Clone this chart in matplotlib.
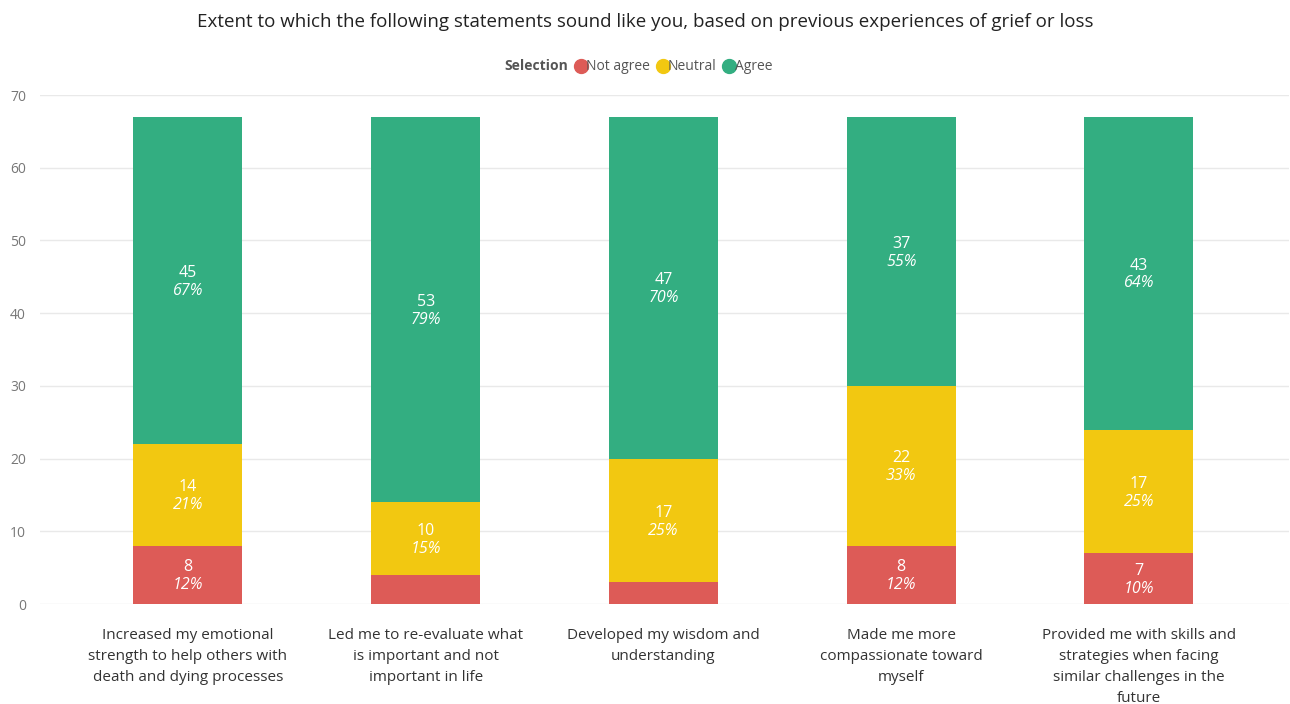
import numpy as np
import matplotlib.pyplot as plt
from matplotlib.lines import Line2D

plt.rcParams['font.family'] = ['Open Sans', 'DejaVu Sans']

# categories (wrapped as in the original)
categories = [
    'Increased my emotional\nstrength to help others with\ndeath and dying processes',
    'Led me to re-evaluate what\nis important and not\nimportant in life',
    'Developed my wisdom and\nunderstanding',
    'Made me more\ncompassionate toward\nmyself',
    'Provided me with skills and\nstrategies when facing\nsimilar challenges in the\nfuture',
]
not_agree = [8, 4, 3, 8, 7]
neutral = [14, 10, 17, 22, 17]
agree = [45, 53, 47, 37, 43]

series = [('Not agree', not_agree, '#DD5B57'),
          ('Neutral', neutral, '#F2C811'),
          ('Agree', agree, '#33AE81')]

fig = plt.figure(figsize=(12.9, 7.04), dpi=100)
ax = fig.add_axes([0.031, 0.142, 0.968, 0.723])

x = np.arange(len(categories))
totals = np.array(not_agree) + np.array(neutral) + np.array(agree)
bottom = np.zeros(len(categories))
handles = [Line2D([], [], linestyle='none', marker='none')]
for name, vals, col in series:
    vals = np.array(vals)
    ax.bar(x, vals, 0.458, bottom=bottom, color=col, zorder=3)
    for xi, v, b, t in zip(x, vals, bottom, totals):
        if v < 5:
            continue
        mid = b + v / 2
        ax.text(xi, mid + 1.05, f'{v}', ha='center', va='center', color='white',
                fontsize=11.5, zorder=4)
        ax.text(xi, mid - 1.4, f'{v / t * 100:.0f}%', ha='center', va='center',
                color='white', fontsize=11.5, style='italic', zorder=4)
    bottom += vals
    handles.append(Line2D([], [], linestyle='none', marker='o', markersize=10,
                          color=col))

ax.set_xlim(-0.622, 4.63)
ax.set_ylim(0, 70)
ax.set_yticks(range(0, 71, 10))
ax.grid(axis='y', color='#E9E9E9', linewidth=1, zorder=0)
for s in ax.spines.values():
    s.set_visible(False)
ax.tick_params(axis='y', length=0, colors='#777777', labelsize=10, pad=10)
ax.tick_params(axis='x', length=0, labelsize=11, colors='#333333', pad=17)
ax.set_xticks(x)
ax.set_xticklabels(categories, linespacing=1.55)

fig.text(0.5, 0.969, 'Extent to which the following statements sound like you, based on '
         'previous experiences of grief or loss', ha='center', va='center',
         fontsize=13.5, color='#222222')

leg = fig.legend(handles, ['Selection', 'Not agree', 'Neutral', 'Agree'],
                 loc='center', bbox_to_anchor=(0.49, 0.905), ncol=4, frameon=False,
                 handletextpad=-0.1, columnspacing=0.4, fontsize=10,
                 handlelength=1.0)
texts = leg.get_texts()
texts[0].set_fontweight('bold')
for t in texts:
    t.set_color('#555555')

fig.savefig('out.png', dpi=100, facecolor='white')
